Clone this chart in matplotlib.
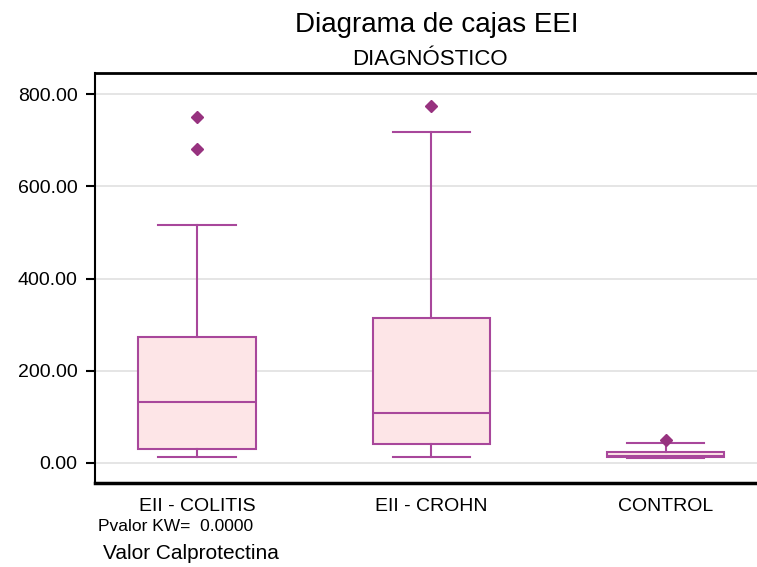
import matplotlib
matplotlib.use("Agg")
import matplotlib.pyplot as plt

plt.rcParams['font.family'] = ['Liberation Sans', 'DejaVu Sans']

# datos
grupos = ['EII - COLITIS', 'EII - CROHN', 'CONTROL']
q1 = [31, 41, 12]
mediana = [131, 108, 15]
q3 = [273, 314, 24]
bigote_inf = [13, 13, 10]
bigote_sup = [516, 718, 43]
atipicos = [[682, 750], [774], [49]]

color_borde = '#A8479B'
color_relleno = '#FDE5E7'
color_punto = '#97327F'

stats = []
for i, g in enumerate(grupos):
    stats.append({
        'label': g,
        'q1': q1[i], 'med': mediana[i], 'q3': q3[i],
        'whislo': bigote_inf[i], 'whishi': bigote_sup[i],
        'fliers': atipicos[i],
    })

fig = plt.figure(figsize=(7.57, 5.67), dpi=100)
ax = fig.add_axes([0.1255, 0.148, 0.8745, 0.723])

ax.bxp(stats, positions=[1, 2, 3], widths=0.5, capwidths=0.33,
       patch_artist=True, showfliers=True,
       boxprops=dict(facecolor=color_relleno, edgecolor=color_borde, linewidth=1.5),
       medianprops=dict(color=color_borde, linewidth=1.5),
       whiskerprops=dict(color=color_borde, linewidth=1.5),
       capprops=dict(color=color_borde, linewidth=1.5),
       flierprops=dict(marker='D', markersize=6.5, markerfacecolor=color_punto,
                       markeredgecolor=color_punto))

ax.set_xlim(0.565, 3.39)
ax.set_ylim(-44, 846)
ax.set_yticks([0, 200, 400, 600, 800])
ax.set_yticklabels([f"{v:.2f}" for v in [0, 200, 400, 600, 800]], fontsize=14)
ax.set_xticks([1, 2, 3])
ax.set_xticklabels(grupos, fontsize=14)
ax.tick_params(axis='x', length=0, pad=11)
ax.tick_params(axis='y', length=6.5, width=1.5, pad=6)
ax.yaxis.grid(True, color='#E0E0E0', linewidth=1.2)
ax.set_axisbelow(True)

ax.spines['right'].set_visible(False)
ax.spines['top'].set_linewidth(2)
ax.spines['bottom'].set_linewidth(2.5)
ax.spines['left'].set_linewidth(1.5)

fig.text(0.5766, 0.9436, 'Diagrama de cajas EEI', ha='center', va='baseline', fontsize=20)
fig.text(0.5674, 0.8854, 'DIAGNÓSTICO', ha='center', va='baseline', fontsize=16)
fig.text(0.1295, 0.0635, 'Pvalor KW=  0.0000', ha='left', va='baseline', fontsize=12.5)
fig.text(0.136, 0.0146, 'Valor Calprotectina', ha='left', va='baseline', fontsize=15)

fig.savefig('out.png', dpi=100)
